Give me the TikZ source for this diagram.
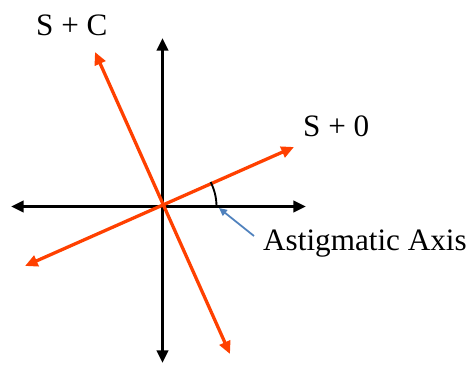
\documentclass[tikz,border=0pt]{standalone}
\usepackage{fontspec}
\setmainfont{Liberation Serif}
\usetikzlibrary{arrows.meta}
\definecolor{axred}{RGB}{255,64,0}
\definecolor{axblue}{RGB}{79,129,189}
\tikzset{
  axisline/.style={{Triangle[length=0.38cm, width=0.34cm]}-{Triangle[length=0.38cm, width=0.34cm]},
    line width=2.8pt, color=black},
  meridian/.style={{Triangle[length=0.38cm, width=0.34cm]}-{Triangle[length=0.38cm, width=0.34cm]},
    line width=2.8pt, color=axred},
  pointer/.style={-{Triangle[length=0.24cm, width=0.22cm]}, line width=1.5pt, color=axblue},
  lbl/.style={font=\fontsize{26.6}{30}\selectfont, inner sep=0pt}
}

\begin{document}
\begin{tikzpicture}[x=0.03cm, y=0.03cm]
  \useasboundingbox (0,0) rectangle (472,366);
  % Centre and end points
  \coordinate (O) at (162.5,159.5);
  \coordinate (up) at (162.5,328);
  \coordinate (down) at (162.5,3);
  \coordinate (left) at (11,159.5);
  \coordinate (right) at (306,159.5);
  \coordinate (cyl1) at (95,314);
  \coordinate (cyl2) at (230,12);
  \coordinate (sph1) at (294,219);
  \coordinate (sph2) at (25,100);
  % Axes
  \draw[axisline] (left) -- (right);
  \draw[axisline] (down) -- (up);
  % Meridians
  \draw[meridian] (cyl2) -- (cyl1);
  \draw[meridian] (sph2) -- (sph1);
  % Angle mark
  \draw[line width=1.6pt] (O) ++(0:54) arc[start angle=0, end angle=27, radius=54];
  % Labels
  \node[lbl, anchor=base west] (sc) at (36,330) {S + C};
  \node[lbl, anchor=base west] (s0) at (303,229) {S + 0};
  \node[lbl, anchor=base west] (ast) at (263,115) {Astigmatic Axis};
  \coordinate (ptail) at (254,130);
  \coordinate (phead) at (219,158);
  \draw[pointer] (ptail) -- (phead);
\end{tikzpicture}
\end{document}
